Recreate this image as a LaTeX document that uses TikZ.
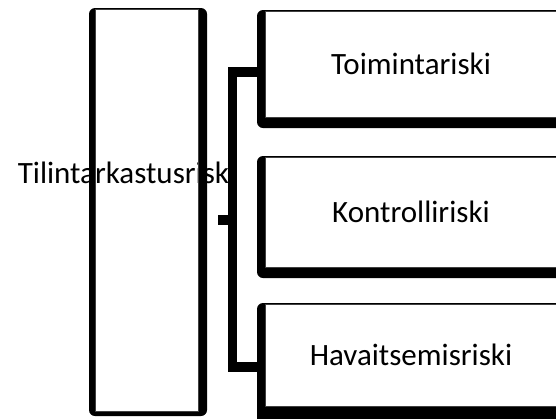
\documentclass[tikz,border=0pt]{standalone}
\usepackage{fontspec}
\setmainfont{Carlito}
\usepackage{tikz}
\usetikzlibrary{calc}

\begin{document}
\begin{tikzpicture}[x=1pt,y=-1pt,
riskbox/.style={draw=black!75,line width=0.8pt,fill=white,inner sep=0pt,font=\fontsize{31}{37}\selectfont},
bracket/.style={line width=9.5pt,line join=miter}]
\useasboundingbox (0,0) rectangle (556,418);
\node[anchor=base,inner sep=0pt,font=\fontsize{31}{37}\selectfont] (lt) at (127,183) {Tilintarkastusriski};
\fill[even odd rule] [rounded corners=6pt] (89,8) rectangle (207,416) [sharp corners] (95,9) rectangle (198,411);
\node[draw=black!75,line width=0.8pt,minimum width=103pt,minimum height=402pt] (lb) at (146.5,210) {};
\fill[rounded corners=6pt] (257,10) rectangle (575,128);
\fill[rounded corners=6pt] (257,156) rectangle (575,278);
\fill[rounded corners=6pt] (257,303) rectangle (575,424);
\node[riskbox,minimum width=292pt,minimum height=106pt] (b1) at (411,64) {Toimintariski};
\node[riskbox,minimum width=292pt,minimum height=110pt] (b2) at (411,212) {Kontrolliriski};
\node[riskbox,minimum width=292pt,minimum height=102pt] (b3) at (411,355) {Havaitsemisriski};
\coordinate (trunk) at (232.5,220);
\coordinate (stub) at (218,220);
\draw[bracket] ([yshift=-8pt]b1.west) -| (trunk) |- ([yshift=-12pt]b3.west);
\draw[bracket] (stub) -- (trunk);
\end{tikzpicture}
\end{document}
